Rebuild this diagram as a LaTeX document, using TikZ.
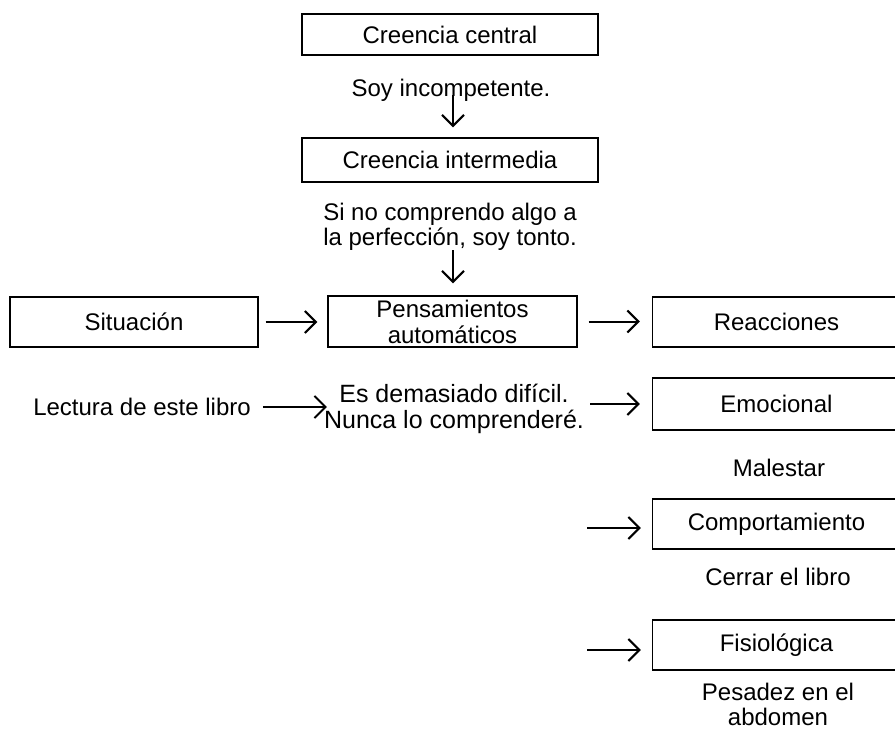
\documentclass[tikz,border=0pt]{standalone}
\usepackage{fontspec}
\setmainfont{Liberation Sans}
\usetikzlibrary{arrows.meta,calc}
\begin{document}
\begin{tikzpicture}[x=1pt,y=-1pt,
  every node/.style={font=\fontsize{24}{25.5}\selectfont, inner sep=0pt, align=center},
  box/.style={draw, line width=1.4pt, minimum height=50pt},
  cbox/.style={box, minimum width=296pt},
  lbox/.style={box, minimum width=248pt},
  rbox/.style={box, minimum width=248pt},
  arr/.style={line width=2pt, -{Straight Barb[length=11pt,width=22pt,line width=2pt]}}
]
\useasboundingbox (0,0) rectangle (895,729);
\clip (0,0) rectangle (895,729);
% top column
\node[cbox, minimum height=41pt] (ccen) at (450,34.5) {Creencia central};
\node (soy) at (451,90) {Soy incompetente.};
\node[cbox, minimum height=44pt] (cint) at (450,160) {Creencia intermedia};
\node (sino) at (450,227) {Si no comprendo algo a\\la perfección, soy tonto.};
% middle row
\node[lbox] (sit) at (134,322) {Situación};
\node[lbox, minimum width=249pt, minimum height=51pt, font=\fontsize{24}{26}\selectfont] (pen) at (452.5,321.5) {Pensamientos\\automáticos};
\node[rbox] (rea) at (776.5,322) {Reacciones};
% second row
\node (lec) at (142,407) {Lectura de este libro};
\node[font=\fontsize{25}{26.5}\selectfont] (esd) at (454,409) {Es demasiado difícil.\\Nunca lo comprenderé.};
\node[rbox, minimum height=52pt] (emo) at (776.5,404) {Emocional};
\node (mal) at (779,468) {Malestar};
\node[rbox] (com) at (776.5,524) {Comportamiento};
\node (cer) at (778,577) {Cerrar el libro};
\node[rbox] (fis) at (776.5,645) {Fisiológica};
\node[font=\fontsize{24}{25}\selectfont] (pes) at (778,704) {Pesadez en el\\abdomen};
% arrows
\draw[arr] (453,95) -- ($(cint.north)+(3,-10)$);
\draw[arr] (453,250) -- ($(pen.north)+(0.5,-12)$);
\draw[arr, shorten <=7pt, shorten >=10pt] (sit.east) -- (sit.east -| pen.west);
\draw[arr, shorten <=11pt, shorten >=12pt] (pen.east) -- (pen.east -| rea.west);
\draw[arr, shorten <=12pt] (lec.east) -- ($(lec.east -| esd.west)+(3,0)$);
\draw[arr, shorten <=6pt, shorten >=12pt] (esd.east |- emo.west) -- (emo.west);
\coordinate (c1) at (587,528);
\coordinate (f1) at (587,650);
\draw[arr, shorten >=11pt] (c1) -- (c1 -| com.west);
\draw[arr, shorten >=11pt] (f1) -- (f1 -| fis.west);
\end{tikzpicture}
\end{document}
